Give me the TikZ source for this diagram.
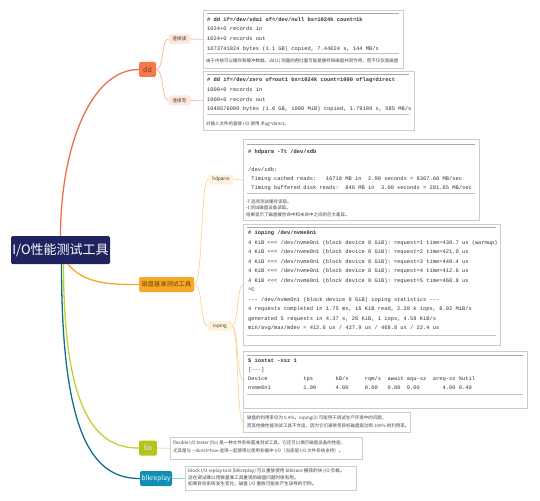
\documentclass[tikz,border=0pt]{standalone}
\usepackage{fontspec}
\setmonofont{Liberation Mono}
\newfontfamily\cjk{Noto Sans CJK SC}
\definecolor{rootc}{HTML}{1F2460}
\definecolor{ddc}{HTML}{F47B48}
\definecolor{ddtext}{HTML}{8E3414}
\definecolor{ddline}{HTML}{EE6D4E}
\definecolor{ddpale}{HTML}{F6BBA5}
\definecolor{ddchip}{HTML}{FDE6DA}
\definecolor{diskc}{HTML}{F6A827}
\definecolor{disktext}{HTML}{6B4300}
\definecolor{diskline}{HTML}{F5A623}
\definecolor{diskpale}{HTML}{FAD79C}
\definecolor{diskchip}{HTML}{FFF1DC}
\definecolor{fioc}{HTML}{B5C320}
\definecolor{fioline}{HTML}{C5CF30}
\definecolor{fiopale}{HTML}{DDE39A}
\definecolor{blkc}{HTML}{0F8FB6}
\definecolor{blkline}{HTML}{126F8C}
\definecolor{blkpale}{HTML}{8ACFE3}
\definecolor{boxc}{HTML}{CCCCCC}
\definecolor{rulec}{HTML}{A8A8A8}
\definecolor{codec}{HTML}{333333}
\definecolor{notec}{HTML}{444444}
\begin{document}
\begin{tikzpicture}[x=1pt,y=-1pt,
  notebox/.style={draw=boxc, line width=0.6pt, fill=white, inner sep=0, anchor=north west},
  code/.style={font=\ttfamily\fontsize{5.4}{9.4}\selectfont, align=left, inner sep=0, anchor=north west, text=codec},
  ddcode/.style={code, font=\ttfamily\fontsize{5.4}{9.7}\selectfont},
  note/.style={font=\cjk\fontsize{4.5}{6.8}\selectfont, align=left, inner sep=0, anchor=north west, text=notec},
  chip/.style={font=\cjk\fontsize{4.6}{5}\selectfont, rounded corners=2.5pt, inner sep=0, minimum height=10pt, text=black!80},
  topic/.style={inner sep=0, rounded corners=2pt, minimum height=15pt},
  toprule/.style={draw=rulec, line width=1pt},
  botrule/.style={draw=rulec!70, line width=0.6pt},
  main/.style={line width=1.3pt},
  sub/.style={line width=0.8pt}]
\useasboundingbox (0,0) rectangle (540,500);

% ---------- topics ----------
\node[fill=rootc, text=white, font=\cjk\fontsize{13}{13}\selectfont, minimum width=99pt, minimum height=28pt, rounded corners=1.5pt, inner sep=0] (root) at (60.5,250) {I/O性能测试工具};
\node[topic, fill=ddc, text=ddtext, font=\cjk\fontsize{7}{7}\selectfont, minimum width=17pt] (dd) at (147.5,69.5) {dd};
\node[topic, fill=diskc, text=disktext, font=\cjk\fontsize{6.2}{6.2}\selectfont, minimum width=55pt] (disk) at (166.5,284.5) {磁盘基准测试工具};
\node[topic, fill=fioc, text=white!92!black, font=\cjk\fontsize{7}{7}\selectfont, minimum width=18pt] (fio) at (148,448) {fio};
\node[topic, fill=blkc, text=white, font=\cjk\fontsize{6.6}{6.6}\selectfont, minimum width=32pt] (blk) at (156,478.5) {blkreplay};

\node[chip, fill=ddchip, minimum width=22pt] (seqr) at (179.5,39) {连续读};
\node[chip, fill=ddchip, minimum width=22pt] (seqw) at (179.5,100.5) {连续写};
\node[chip, fill=diskchip, minimum width=25pt] (hdp) at (221,179.5) {hdparm};
\node[chip, fill=diskchip, minimum width=24pt] (iop) at (220,326) {ioping};

% ---------- boxes ----------
\node[notebox, minimum width=200pt, minimum height=58pt] (b1) at (203,10) {};
\node[notebox, minimum width=211pt, minimum height=59pt] (b2) at (203,71) {};
\node[notebox, minimum width=236pt, minimum height=81pt] (hb) at (243,139) {};
\node[notebox, minimum width=257pt, minimum height=121pt] (ib) at (243,224) {};
\node[notebox, minimum width=284pt, minimum height=57pt] (sb) at (243,351) {};
\node[notebox, minimum width=167pt, minimum height=20pt] (nb) at (243,412) {};
\node[notebox, minimum width=192pt, minimum height=22pt] (fb) at (170,437) {};
\node[notebox, minimum width=171pt, minimum height=24pt] (kb) at (185,466) {};

% rules
\draw[toprule] (207,14) -- (399,14);
\draw[botrule] (207,53) -- (399,53);
\draw[toprule] (207,74.5) -- (409,74.5);
\draw[botrule] (207,114) -- (409,114);
\draw[toprule] (247,144) -- (475,144);
\draw[botrule] (247,193) -- (475,193);
\draw[toprule] (247,227.5) -- (496,227.5);
\draw[botrule] (247,335) -- (496,335);
\draw[toprule] (247,355) -- (523,355);
\draw[botrule] (247,394) -- (523,394);

% ---------- texts ----------
\node[ddcode] (t1) at (207,17) {\textbf{\# dd if=/dev/sda1 of=/dev/null bs=1024k count=1k}\\
1024+0 records in\\
1024+0 records out\\
1073741824 bytes (1.1 GB) copied, 7.44024 s, 144 MB/s};
\begin{scope}
\clip (b1.north west) rectangle (b1.south east);
\node[note] (n1) at (206,58) {由于内核可以缓存和缓冲数据，dd(1) 测量的吞吐量可能是缓存和磁盘共同作用，而不仅仅是磁盘};
\end{scope}

\node[ddcode] (t2) at (207,77.5) {\textbf{\# dd if=/dev/zero of=out1 bs=1024k count=1000 oflag=direct}\\
1000+0 records in\\
1000+0 records out\\
1048576000 bytes (1.0 GB, 1000 MiB) copied, 1.79189 s, 585 MB/s};
\node[note] (n2) at (206,121) {对输入文件的直接 I/O 使用 iflag=direct。};

\node[code, font=\ttfamily\fontsize{5.4}{9}\selectfont] (th) at (248,149.5) {\textbf{\# hdparm -Tt /dev/sdb}\\
\mbox{}\\
/dev/sdb:\\
~Timing cached reads:~~~16718 MB in~~2.00 seconds = 8367.66 MB/sec\\
~Timing buffered disk reads:~~846 MB in~~3.00 seconds = 281.65 MB/sec};
\node[note, font=\cjk\fontsize{4.5}{6.4}\selectfont] (nh) at (246,199.5) {-T 选项测试缓存读取。\\
-t 测试磁盘设备读取。\\
结果显示了磁盘缓存命中和未命中之间的巨大差异。};

\node[code, font=\ttfamily\fontsize{5.4}{9.5}\selectfont] (ti) at (248,230.5) {\textbf{\# ioping /dev/nvme0n1}\\
4 KiB <<< /dev/nvme0n1 (block device 8 GiB): request=1 time=438.7 us (warmup)\\
4 KiB <<< /dev/nvme0n1 (block device 8 GiB): request=2 time=421.0 us\\
4 KiB <<< /dev/nvme0n1 (block device 8 GiB): request=3 time=449.4 us\\
4 KiB <<< /dev/nvme0n1 (block device 8 GiB): request=4 time=412.6 us\\
4 KiB <<< /dev/nvme0n1 (block device 8 GiB): request=5 time=468.8 us\\
\textasciicircum C\\
--- /dev/nvme0n1 (block device 8 GiB) ioping statistics ---\\
4 requests completed in 1.75 ms, 16 KiB read, 2.28 k iops, 8.92 MiB/s\\
generated 5 requests in 4.37 s, 20 KiB, 1 iops, 4.58 KiB/s\\
min/avg/max/mdev = 412.6 us / 437.9 us / 468.8 us / 22.4 us};

\node[code, font=\ttfamily\fontsize{5.4}{9}\selectfont] (ts) at (248,358.5) {\textbf{\$ iostat -xsz 1}\\
{[}---{]}\\
Device~~~~~~~~~~~tps~~~~~~~kB/s~~~~~rqm/s~~await~aqu-sz~~areq-sz~\%util\\
nvme0n1~~~~~~~~~~1.00~~~~~~4.00~~~~~0.00~~~0.00~~0.00~~~~~~~4.00~0.40};

\node[note, font=\cjk\fontsize{4.5}{8}\selectfont] (nn) at (247,415) {磁盘的利用率仅为 0.4\%。ioping(1) 可能用于调试生产环境中的问题，\\
而其他微性能测试工具不合适，因为它们通常将目标磁盘驱动到 100\% 的利用率。};

\node[note, font=\cjk\fontsize{4.5}{7.5}\selectfont] (nf) at (173,440.5) {flexible I/O tester (fio) 是一种文件系统基准测试工具，它还可以揭示磁盘设备的性能，\\
尤其是与 -{}-direct=true 选项一起使用以使用非缓冲 I/O（当底层 I/O 文件系统支持）。};

\node[note, font=\cjk\fontsize{4.6}{6.5}\selectfont] (nk) at (188,468.5) {block I/O replay tool (blkreplay) 可以重放使用 blktrace 捕获的块 I/O 负载。\\
这在调试难以用微基准工具重现的磁盘问题时很有用。\\
如果目标系统发生变化，磁盘 I/O 重放可能会产生误导的示例。};

% ---------- connectors ----------
\draw[main, ddline] (root.north) .. controls +(0,-86) and +(-49,0) .. (dd.west);
\draw[main, diskline] ([xshift=7.5pt]root.south) .. controls +(17,20) and +(-29,0) .. (disk.west);
\draw[main, fioline] ([xshift=3pt]root.south) .. controls +(0,156) and +(-39,0) .. (fio.west);
\draw[main, blkline] ([xshift=1pt]root.south) .. controls +(0,176) and +(-45,0) .. (blk.west);

\draw[sub, ddpale] (dd.east) .. controls +(8,0) and +(-7,0) .. (seqr.west);
\draw[sub, ddpale] (dd.east) .. controls +(8,0) and +(-7,0) .. (seqw.west);
\draw[sub, ddpale] (seqr.east) -- (b1.west);
\draw[sub, ddpale] (seqw.east) -- (b2.west);

\draw[sub, diskpale] (disk.east) .. controls +(9,0) and +(-8,0) .. (hdp.west);
\draw[sub, diskpale] (disk.east) .. controls +(9,0) and +(-8,0) .. (iop.west);
\draw[sub, diskpale] (hdp.east) -- (hb.west);
\draw[sub, diskpale] (iop.east) .. controls +(6,0) and +(-6,0) .. (ib.west);
\draw[sub, diskpale] (iop.east) .. controls +(6,0) and +(-6,0) .. (sb.west);
\draw[sub, diskpale] (iop.east) .. controls +(6,0) and +(-6,0) .. (nb.west);

\draw[sub, fiopale] (fio.east) -- (fb.west);
\draw[sub, blkpale] (blk.east) -- (kb.west);
\end{tikzpicture}
\end{document}
